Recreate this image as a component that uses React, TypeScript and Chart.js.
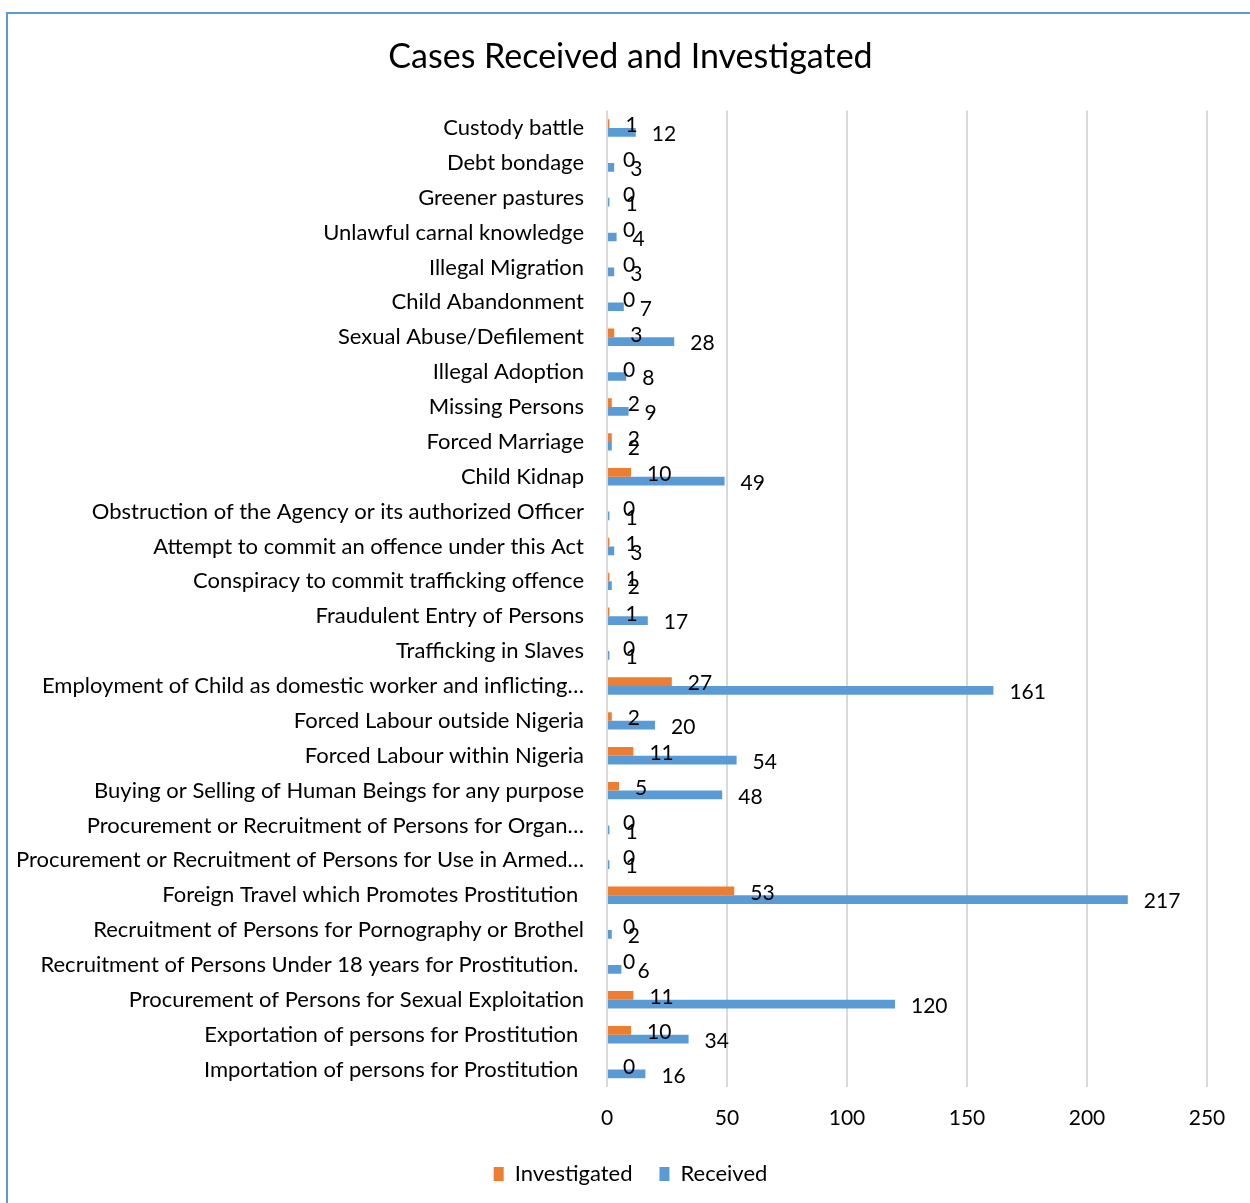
import React, { useEffect, useRef } from "react";
import { Chart, registerables } from "chart.js";

Chart.register(...registerables);

const TITLE = "Cases Received and Investigated";

const categories = [
  "Custody battle",
  "Debt bondage",
  "Greener pastures",
  "Unlawful carnal knowledge",
  "Illegal Migration",
  "Child Abandonment",
  "Sexual Abuse/Defilement",
  "Illegal Adoption",
  "Missing Persons",
  "Forced Marriage",
  "Child Kidnap",
  "Obstruction of the Agency or its authorized Officer",
  "Attempt to commit an offence under this Act",
  "Conspiracy to commit trafficking offence",
  "Fraudulent Entry of Persons",
  "Trafficking in Slaves",
  "Employment of Child as domestic worker and inflicting…",
  "Forced Labour outside Nigeria",
  "Forced Labour within Nigeria",
  "Buying or Selling of Human Beings for any purpose",
  "Procurement or Recruitment of Persons for Organ…",
  "Procurement or Recruitment of Persons for Use in Armed…",
  "Foreign Travel which Promotes Prostitution ",
  "Recruitment of Persons for Pornography or Brothel",
  "Recruitment of Persons Under 18 years for Prostitution. ",
  "Procurement of Persons for Sexual Exploitation",
  "Exportation of persons for Prostitution ",
  "Importation of persons for Prostitution ",
];

const investigated = [1, 0, 0, 0, 0, 0, 3, 0, 2, 2, 10, 0, 1, 1, 1, 0, 27, 2, 11, 5, 0, 0, 53, 0, 0, 11, 10, 0];
const received = [12, 3, 1, 4, 3, 7, 28, 8, 9, 2, 49, 1, 3, 2, 17, 1, 161, 20, 54, 48, 1, 1, 217, 2, 6, 120, 34, 16];

const xTicks = [0, 50, 100, 150, 200, 250];

const FONT = "Lato, 'Open Sans', sans-serif";
const ORANGE = "#ED7D31";
const BLUE = "#5B9BD5";

const dataLabelPlugin = {
  id: "dataLabels",
  afterLayout(chart: any) {
    // let long category labels extend past the y-axis box (no clipping)
    if (chart.scales.y) chart.scales.y.left = 0;
  },
  afterDatasetsDraw(chart: any) {
    const ctx = chart.ctx;
    ctx.save();
    ctx.font = `21px ${FONT}`;
    ctx.fillStyle = "#000";
    ctx.textAlign = "left";
    ctx.textBaseline = "middle";
    chart.data.datasets.forEach((ds: any, di: number) => {
      const meta = chart.getDatasetMeta(di);
      meta.data.forEach((bar: any, i: number) => {
        ctx.fillText(String(ds.data[i]), bar.x + 16, bar.y + 2);
      });
    });
    ctx.restore();
  },
};

export default function App() {
  const ref = useRef<HTMLCanvasElement | null>(null);

  useEffect(() => {
    if (!ref.current) return;
    const chart = new Chart(ref.current, {
      type: "bar",
      data: {
        labels: categories,
        datasets: [
          {
            label: "Investigated",
            data: investigated,
            backgroundColor: ORANGE,
            categoryPercentage: 0.5,
            barPercentage: 1.0,
          },
          {
            label: "Received",
            data: received,
            backgroundColor: BLUE,
            categoryPercentage: 0.5,
            barPercentage: 1.0,
          },
        ],
      },
      options: {
        indexAxis: "y",
        animation: false,
        responsive: false,
        layout: { padding: { left: 54, right: 43, top: 0, bottom: 8 } },
        scales: {
          x: {
            min: 0,
            max: 250,
            afterBuildTicks: (scale: any) => {
              scale.ticks = xTicks.map((v) => ({ value: v }));
            },
            afterFit: (scale: any) => {
              scale.height = 49;
            },
            ticks: {
              font: { family: FONT, size: 21 },
              color: "#000",
              padding: 19,
            },
            grid: { color: "#d9d9d9", lineWidth: 2, drawTicks: false },
            border: { display: false },
          },
          y: {
            afterFit: (scale: any) => {
              scale.width = 553;
            },
            ticks: {
              font: { family: FONT, size: 22 },
              color: "#000",
              padding: 23,
              autoSkip: false,
            },
            grid: { display: false, drawTicks: false },
            border: { display: false },
          },
        },
        plugins: {
          title: {
            display: true,
            text: TITLE,
            color: "#000",
            font: { family: FONT, size: 34, weight: "normal" },
            padding: { top: 36.6, bottom: 33.2 },
          },
          legend: {
            position: "bottom",
            labels: {
              boxWidth: 10,
              boxHeight: 14,
              padding: 27,
              color: "#000",
              font: { family: FONT, size: 22 },
            },
          },
          tooltip: { enabled: false },
        },
      },
      plugins: [dataLabelPlugin],
    } as any);
    return () => chart.destroy();
  }, []);

  return (
    <div
      style={{
        position: "fixed",
        left: 0,
        top: 0,
        width: 1250,
        height: 1203,
        overflow: "hidden",
        background: "#fff",
      }}
    >
      <div
        style={{
          position: "absolute",
          left: 6,
          top: 12,
          width: 1400,
          height: 1400,
          borderLeft: "2px solid #5B9BD5",
          borderTop: "2px solid #5B9BD5",
        }}
      />
      <canvas
        ref={ref}
        width={1250}
        height={1203}
        style={{ position: "absolute", left: 0, top: 0, width: 1250, height: 1203 }}
      />
    </div>
  );
}
